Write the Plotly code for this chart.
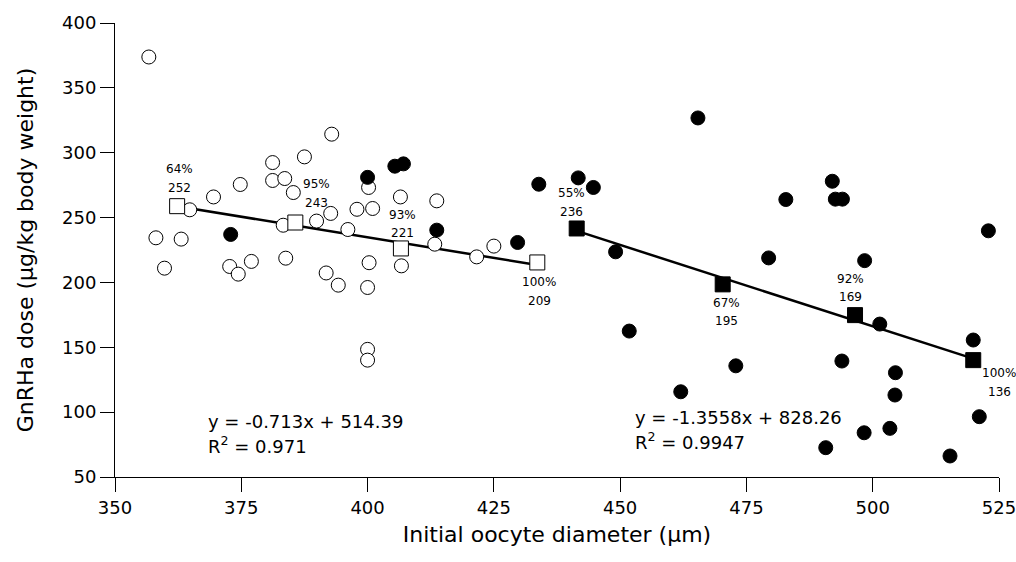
import numpy as np
import plotly.graph_objects as go

# ---------------- data ----------------
open_x = [356.7, 364.8, 369.5, 374.8, 381.2, 381.2, 383.6, 385.3, 387.5, 392.9,
          383.3, 389.9, 392.7, 396.1, 397.9, 401.0, 400.2, 406.5, 413.7, 413.3,
          425.0, 421.6, 400.3, 406.7, 391.8, 394.2, 400.0, 358.1, 363.1, 359.8,
          372.7, 374.4, 377.0, 383.8, 400.0, 400.0]
open_y = [373.8, 256.0, 265.9, 275.5, 292.4, 278.6, 280.1, 269.3, 296.8, 314.3,
          244.1, 247.3, 253.2, 240.8, 256.4, 257.0, 273.2, 265.9, 262.9, 229.5,
          228.0, 219.7, 215.2, 212.8, 207.3, 197.9, 196.1, 234.4, 233.4, 211.0,
          212.3, 206.4, 216.2, 218.7, 148.4, 140.1]

filled_x = [372.9, 400.0, 405.4, 407.1, 413.7, 429.7, 433.9,
            465.4, 441.7, 444.7, 449.1, 479.4, 482.8, 492.0, 492.6, 494.0,
            451.8, 498.4, 522.9, 501.4, 519.9, 493.9, 504.5, 504.4, 521.1,
            498.3, 503.4, 490.7, 515.3, 472.9, 462.0]
filled_y = [237.0, 281.0, 289.6, 291.4, 240.3, 230.8, 275.7,
            326.8, 280.6, 273.2, 223.6, 218.9, 263.9, 278.0, 264.2, 264.2,
            162.5, 216.8, 239.8, 167.9, 155.6, 139.4, 130.4, 113.2, 96.5,
            84.1, 87.5, 72.6, 66.2, 135.7, 115.7]

# group means (squares)
sq_open_x = [362.3, 385.7, 406.6, 433.6]
sq_open_y = [258.8, 246.2, 226.2, 215.4]
sq_open_pct = ["64%", "95%", "93%", "100%"]
sq_open_dose = ["252", "243", "221", "209"]

sq_fill_x = [441.4, 470.3, 496.5, 519.9]
sq_fill_y = [241.6, 198.5, 174.8, 140.1]
sq_fill_pct = ["55%", "67%", "92%", "100%"]
sq_fill_dose = ["236", "195", "169", "136"]

eq_open = ["y = -0.713x + 514.39", "R<sup>2</sup> = 0.971"]
eq_fill = ["y = -1.3558x + 828.26", "R<sup>2</sup> = 0.9947"]

x_ticks = [350, 375, 400, 425, 450, 475, 500, 525]
y_ticks = [50, 100, 150, 200, 250, 300, 350, 400]

FONT = "DejaVu Sans"

fig = go.Figure()

# regression lines through group means
for xs, ys in [(sq_open_x, sq_open_y), (sq_fill_x, sq_fill_y)]:
    b, a = np.polyfit(xs, ys, 1)
    lx = np.array([min(xs), max(xs)])
    fig.add_trace(go.Scatter(x=lx, y=a + b * lx, mode="lines",
                             line=dict(color="black", width=2.5),
                             showlegend=False, hoverinfo="skip"))

fig.add_trace(go.Scatter(x=open_x, y=open_y, mode="markers",
                         marker=dict(symbol="circle", size=14, color="white",
                                     line=dict(color="black", width=1)),
                         showlegend=False))
fig.add_trace(go.Scatter(x=filled_x, y=filled_y, mode="markers",
                         marker=dict(symbol="circle", size=14, color="black",
                                     line=dict(color="black", width=1)),
                         showlegend=False))
fig.add_trace(go.Scatter(x=sq_open_x, y=sq_open_y, mode="markers",
                         marker=dict(symbol="square", size=15, color="white",
                                     line=dict(color="black", width=1)),
                         showlegend=False))
fig.add_trace(go.Scatter(x=sq_fill_x, y=sq_fill_y, mode="markers",
                         marker=dict(symbol="square", size=15, color="black",
                                     line=dict(color="black", width=1)),
                         showlegend=False))

# label offsets (pixels): (dx, dy_pct, dy_dose), dy positive = up
open_off = [(2, 37, 18), (21, 39, 20), (2, 33, 15), (2, -20, -39)]
fill_off = [(-5, 35, 16), (4, -19, -37), (-5, 36, 18), (26, -13, -32)]

annotations = []
for xs, ys, pcts, doses, offs in [
        (sq_open_x, sq_open_y, sq_open_pct, sq_open_dose, open_off),
        (sq_fill_x, sq_fill_y, sq_fill_pct, sq_fill_dose, fill_off)]:
    for x, y, p, d, (dx, dp, dd) in zip(xs, ys, pcts, doses, offs):
        annotations.append(dict(x=x, y=y, xref="x", yref="y", text=p,
                                showarrow=False, xshift=dx, yshift=dp,
                                font=dict(family=FONT, size=12, color="black")))
        annotations.append(dict(x=x, y=y, xref="x", yref="y", text=d,
                                showarrow=False, xshift=dx, yshift=dd,
                                font=dict(family=FONT, size=12, color="black")))

for lines, px, pys in [(eq_open, 0.103, [0.123, 0.070]),
                       (eq_fill, 0.586, [0.132, 0.079])]:
    for t, py in zip(lines, pys):
        annotations.append(dict(x=px, y=py, xref="paper", yref="paper",
                                text=t, showarrow=False, xanchor="left",
                                yanchor="middle",
                                font=dict(family=FONT, size=18, color="black")))

fig.update_layout(
    width=1016, height=562,
    margin=dict(l=115, r=17, t=23, b=85, autoexpand=False),
    paper_bgcolor="white", plot_bgcolor="white",
    font=dict(family=FONT, color="black"),
    annotations=annotations,
    xaxis=dict(range=[350, 525], tickvals=x_ticks, ticks="outside", ticklen=14,
               tickwidth=1, tickcolor="black", showline=True, linecolor="black",
               linewidth=1, showgrid=False, zeroline=False, automargin=False,
               ticklabeloverflow="allow",
               tickfont=dict(family=FONT, size=18, color="black"),
               title=dict(text="Initial oocyte diameter (µm)", standoff=10,
                          font=dict(family=FONT, size=22, color="black"))),
    yaxis=dict(range=[50, 400], tickvals=y_ticks, ticks="outside", ticklen=14,
               tickwidth=1, tickcolor="black", showline=True, linecolor="black",
               linewidth=1, showgrid=False, zeroline=False, automargin=False,
               ticklabeloverflow="allow",
               tickfont=dict(family=FONT, size=18, color="black"),
               title=dict(text="GnRHa dose (µg/kg body weight)", standoff=22,
                          font=dict(family=FONT, size=22, color="black"))),
)

fig.write_html("out.html",
               config={"displayModeBar": False},
               post_script="document.body.style.margin='0';"
                           "document.body.style.overflow='hidden';")
